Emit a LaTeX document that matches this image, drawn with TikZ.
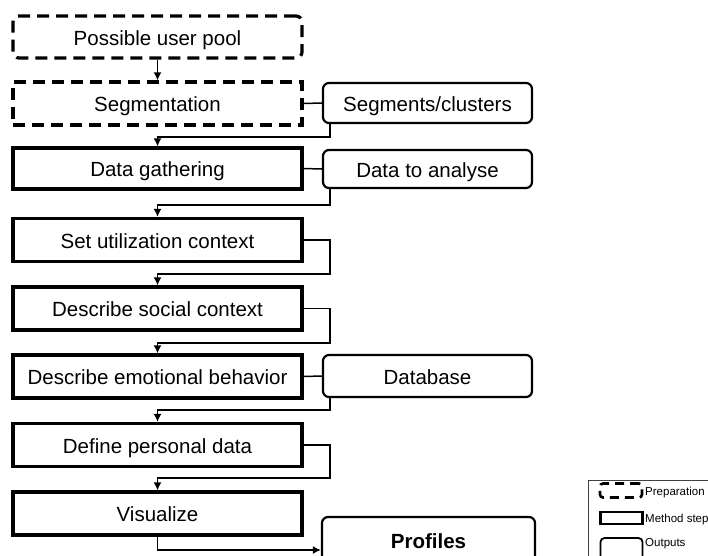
\documentclass[tikz,border=0pt]{standalone}
\usepackage{fontspec}
\setmainfont{Liberation Sans}
\usetikzlibrary{arrows.meta}
\begin{document}
\begin{tikzpicture}[x=1pt,y=-1pt,
  every node/.style={font=\fontsize{20.5}{24}\selectfont, inner sep=0pt, text height=17.5pt, text depth=0.8pt},
  prepbox/.style={draw, line width=3.2pt, dash pattern=on 12pt off 7pt, minimum width=289pt},
  stepbox/.style={draw, line width=3.2pt, minimum width=289pt},
  outbox/.style={draw, line width=2.2pt, rounded corners=6pt, minimum width=209pt},
  link/.style={line width=1.5pt},
  arr/.style={link, -{Latex[length=8pt,width=8pt]}},
  legtext/.style={font=\fontsize{11.5}{13}\selectfont, text height=9.5pt, text depth=1pt, anchor=west}]
\clip (0,0) rectangle (708,555);
\fill[white] (0,0) rectangle (708,555);

% preparation steps
\node[prepbox, rounded corners=6pt, minimum height=42pt] (pool) at (157.5,37) {Possible user pool};
\node[prepbox, minimum height=43pt] (seg) at (157.5,103.5) {Segmentation};

% method steps
\node[stepbox, minimum height=41pt] (gath) at (157.5,168.5) {Data gathering};
\node[stepbox, minimum height=43pt] (util) at (157.5,240) {Set utilization context};
\node[stepbox, minimum height=43pt] (soc) at (157.5,308.5) {Describe social context};
\node[stepbox, minimum height=43pt] (emo) at (157.5,376.5) {Describe emotional behavior};
\node[stepbox, minimum height=43pt] (pers) at (157.5,445) {Define personal data};
\node[stepbox, minimum height=43pt] (vis) at (157.5,513.5) {Visualize};

% outputs
\node[outbox, minimum height=40pt] (segc) at (427.5,103) {Segments/clusters};
\node[outbox, minimum height=38pt] (dta) at (427.5,169) {Data to analyse};
\node[outbox, minimum height=42pt] (db) at (427.5,376) {Database};
\node[outbox, minimum width=213pt, minimum height=46pt] (prof) at (428.5,540) {\textbf{Profiles}};

% turning points of the connectors
\coordinate (t1) at (157.5,137);
\coordinate (t2) at (157.5,205);
\coordinate (t3) at (157.5,274);
\coordinate (t4) at (157.5,343);
\coordinate (t5) at (157.5,410);
\coordinate (t6) at (157.5,478);
\coordinate (t7) at (157.5,550);

% connectors
\draw[arr] (pool) -- (seg);
\draw[link] (seg.east) -- (segc.west);
\draw[arr] ([xshift=8pt]segc.south west) |- (t1) -- (gath.north);
\draw[link] (gath.east) -- (dta.west);
\draw[arr] ([xshift=8pt]dta.south west) |- (t2) -- (util.north);
\draw[arr] (util.east) -| ([xshift=8pt]dta.south west |- t3) -- (t3) -- (soc.north);
\draw[arr] (soc.east) -| ([xshift=8pt]dta.south west |- t4) -- (t4) -- (emo.north);
\draw[link] (emo.east) -- (db.west);
\draw[arr] ([xshift=8pt]db.south west) |- (t5) -- (pers.north);
\draw[arr] (pers.east) -| ([xshift=8pt]db.south west |- t6) -- (t6) -- (vis.north);
\draw[arr] (vis.south) -- (t7) -- (prof.west |- t7);

% legend
\draw[line width=1pt, draw=black!75] (588,480) rectangle (730,580);
\node[draw, line width=2.6pt, dash pattern=on 9pt off 6pt, rounded corners=3pt, minimum width=42pt, minimum height=14pt, text height=0pt, text depth=0pt] (lprep) at (621,490.5) {};
\node[draw, line width=2.8pt, minimum width=42pt, minimum height=12pt, text height=0pt, text depth=0pt] (lstep) at (621.5,518) {};
\node[draw, line width=1.8pt, rounded corners=4pt, minimum width=42pt, minimum height=28pt, text height=0pt, text depth=0pt] (lout) at (621.5,552) {};
\node[legtext] (tprep) at (645,491) {Preparation};
\node[legtext] (tstep) at (645,518) {Method step};
\node[legtext] (tout) at (645,542) {Outputs};
\end{tikzpicture}
\end{document}
